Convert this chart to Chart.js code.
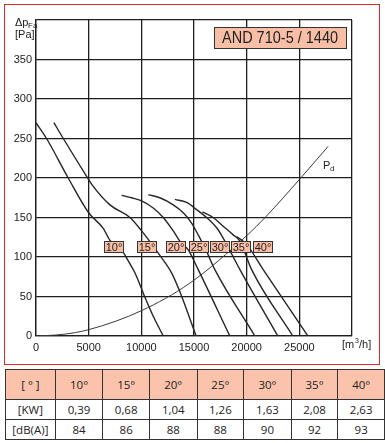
<!DOCTYPE html>
<html>
<head>
<meta charset="utf-8">
<script src="https://cdn.jsdelivr.net/npm/chart.js@4.4.1/dist/chart.umd.min.js"></script>
<style>
  body { margin: 0; background: #fff; width: 385px; height: 443px; position: relative; overflow: hidden; }
  #frame { position: absolute; left: 4px; top: 4px; width: 376px; height: 361px; border: 1px solid #e3262b; box-sizing: border-box; }
  #chart { position: absolute; left: 0; top: 0; }
  #tbl { position: absolute; left: 5px; top: 369px; border-collapse: collapse; font-family: 'Open Sans', sans-serif; font-size: 11.5px; color: #222; }
  #tbl td { border: 1px solid #333; text-align: center; padding: 0; height: 19px; }
  #tbl tr.head td { background: #fbc3ab; height: 29px; }
</style>
</head>
<body>
<div id="frame"></div>
<canvas id="chart" width="385" height="366"></canvas>
<table id="tbl"></table>
<script>
// curves: flow [m3/h] / pressure [Pa]
const flow10 = [0, 1000, 3060, 5000, 6400, 7020, 8130, 8760, 9390, 10340, 11130, 12080];
const dp10 = [270, 250, 200, 156, 136, 121, 109, 95, 80, 49, 25, 0];
const flow15 = [1700, 2590, 5000, 5290, 7020, 8920, 10030, 11760, 12870, 13660, 15200];
const dp15 = [270, 250, 198, 192, 166, 150, 133, 102, 80, 56, 0];
const flow20 = [8130, 9080, 10030, 11130, 12080, 13030, 13660, 14450, 15400, 18400];
const dp20 = [178, 175, 171, 162, 150, 133, 120, 109, 84, 0];
const flow25 = [10660, 11760, 13030, 13980, 14770, 15400, 16130, 16980, 20780];
const dp25 = [179, 175, 166, 156, 143, 128, 109, 84, 0];
const flow30 = [13190, 14300, 15250, 16200, 17150, 17770, 19360, 22960];
const dp30 = [173, 169, 160, 150, 137, 124, 84, 0];
const flow35 = [15800, 16820, 17770, 18720, 19360, 20470, 24380];
const dp35 = [157, 150, 139, 128, 120, 84, 0];
const flow40 = [19040, 19990, 21570, 25810];
const dp40 = [126, 116, 84, 0];
const flowPd = [0, 2500, 5000, 10000, 14610, 20000, 21890, 25000, 27730];
const dpPd = [0, 2, 8, 32, 67, 127, 152, 198, 240];

const angleLabels = ['10°', '15°', '20°', '25°', '30°', '35°', '40°'];
const labelFlow = [7400, 10580, 13260, 15480, 17480, 19480, 21560];
const labelDp = 112.5;

// table
const angles = ['10°', '15°', '20°', '25°', '30°', '35°', '40°'];
const power = ['0,39', '0,68', '1,04', '1,26', '1,63', '2,08', '2,63'];
const noise = [84, 86, 88, 88, 90, 92, 93];

const colW = [49, 47, 46, 47, 46, 47, 46, 46];
function row(first, vals, cls) {
  let h = '<tr' + (cls ? ' class="' + cls + '"' : '') + '>';
  h += '<td style="width:' + colW[0] + 'px">' + first + '</td>';
  vals.forEach((v, i) => { h += '<td style="width:' + colW[i + 1] + 'px">' + v + '</td>'; });
  return h + '</tr>';
}
document.getElementById('tbl').innerHTML =
  row('[ ° ]', angles, 'head') + row('[KW]', power) + row('[dB(A)]', noise);

const pts = (xs, ys) => xs.map((v, i) => ({ x: v, y: ys[i] }));
const curve = (xs, ys) => ({
  data: pts(xs, ys),
  borderColor: '#262626',
  borderWidth: 1.4,
  pointRadius: 0,
  showLine: true,
  cubicInterpolationMode: 'monotone',
});

const overlay = {
  id: 'overlay',
  afterDatasetsDraw(chart) {
    const { ctx, scales: { x, y }, chartArea: a } = chart;
    ctx.save();
    ctx.textAlign = 'center';
    ctx.textBaseline = 'middle';
    ctx.font = '11px "Liberation Sans", Arial, sans-serif';
    angleLabels.forEach((t, i) => {
      const cx = Math.round(x.getPixelForValue(labelFlow[i]));
      const cy = Math.round(y.getPixelForValue(labelDp));
      ctx.fillStyle = '#f9bea6';
      ctx.fillRect(cx - 10, cy - 6, 20, 12);
      ctx.strokeStyle = '#333';
      ctx.lineWidth = 1;
      ctx.strokeRect(cx - 9.5, cy - 5.5, 19, 11);
      ctx.fillStyle = '#222';
      ctx.fillText(t, cx, cy + 0.5, 17);
    });

    // title box
    const tx0 = Math.round(x.getPixelForValue(16900)), tx1 = Math.round(x.getPixelForValue(29400));
    const ty0 = Math.round(y.getPixelForValue(391)), ty1 = Math.round(y.getPixelForValue(364));
    ctx.fillStyle = '#f9bea6';
    ctx.fillRect(tx0, ty0, tx1 - tx0, ty1 - ty0);
    ctx.strokeStyle = '#333';
    ctx.strokeRect(tx0 + 0.5, ty0 + 0.5, tx1 - tx0, ty1 - ty0);
    ctx.fillStyle = '#222';
    ctx.font = '16px "Liberation Sans", Arial, sans-serif';
    ctx.fillText('AND 710-5 / 1440', (tx0 + tx1) / 2, (ty0 + ty1) / 2 + 1, 116);

    // Pd label
    const px = x.getPixelForValue(flowPd[flowPd.length - 1]);
    const py = y.getPixelForValue(dpPd[dpPd.length - 1]);
    ctx.textAlign = 'left';
    ctx.font = '11px "Liberation Sans", Arial, sans-serif';
    ctx.fillText('P', px - 5, py + 20);
    ctx.font = '8px "Liberation Sans", Arial, sans-serif';
    ctx.fillText('d', px + 2, py + 22);

    // axis titles
    ctx.font = '11px "Liberation Sans", Arial, sans-serif';
    ctx.fillText('Δp', a.left - 21, a.top + 3);
    ctx.font = '8px "Liberation Sans", Arial, sans-serif';
    ctx.fillText('Fa', a.left - 8, a.top + 6);
    ctx.font = '11px "Liberation Sans", Arial, sans-serif';
    ctx.fillText('[Pa]', a.left - 21, a.top + 15);
    ctx.fillText('[m', a.right - 10, a.bottom + 9);
    ctx.font = '7px "Liberation Sans", Arial, sans-serif';
    ctx.fillText('3', a.right + 3, a.bottom + 5);
    ctx.font = '11px "Liberation Sans", Arial, sans-serif';
    ctx.fillText('/h]', a.right + 7, a.bottom + 9);
    ctx.restore();
  }
};

const gridStyle = { color: '#1e1e1e', lineWidth: 1.3, drawTicks: false };
const tickFont = { family: '"Liberation Sans", Arial, sans-serif', size: 11 };

new Chart(document.getElementById('chart'), {
  type: 'scatter',
  data: {
    datasets: [
      curve(flow10, dp10),
      curve(flow15, dp15),
      curve(flow20, dp20),
      curve(flow25, dp25),
      curve(flow30, dp30),
      curve(flow35, dp35),
      curve(flow40, dp40),
      Object.assign(curve(flowPd, dpPd), { borderWidth: 1, borderColor: '#3a3a3a' }),
    ],
  },
  options: {
    responsive: false,
    animation: false,
    devicePixelRatio: 1,
    layout: { padding: { left: 0, right: 33, top: 20, bottom: 10 } },
    plugins: { legend: { display: false }, tooltip: { enabled: false } },
    scales: {
      x: {
        type: 'linear',
        min: 0,
        max: 30000,
        grid: gridStyle,
        border: { color: '#1e1e1e', width: 1.3 },
        afterFit: (s) => { s.height = 20; },
        ticks: {
          stepSize: 5000,
          padding: 5,
          color: '#222',
          font: tickFont,
          maxRotation: 0,
          callback: (v) => (v >= 30000 ? '' : String(v)),
        },
      },
      y: {
        type: 'linear',
        min: 0,
        max: 400,
        grid: gridStyle,
        border: { color: '#1e1e1e', width: 1.3 },
        afterFit: (s) => { s.width = 36; },
        ticks: {
          stepSize: 50,
          padding: 4,
          color: '#222',
          font: tickFont,
          callback: (v) => (v >= 400 ? '' : String(v)),
        },
      },
    },
  },
  plugins: [overlay],
});
</script>
</body>
</html>
